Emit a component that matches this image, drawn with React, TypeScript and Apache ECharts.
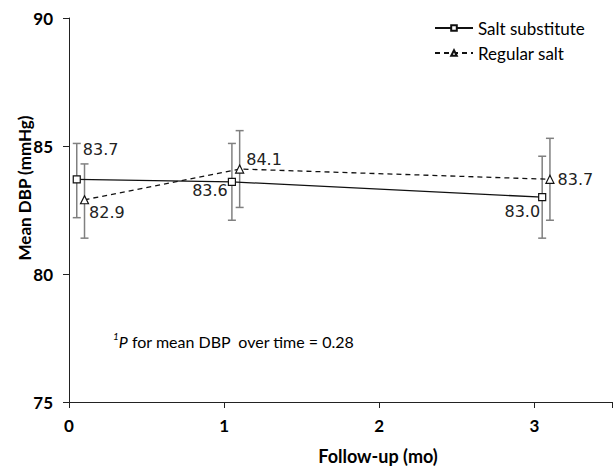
import React, { useEffect, useRef } from "react";
import * as echarts from "echarts";

const xTicks = [0, 1, 2, 3];
const ssX = [0.05, 1.05, 3.05];
const ssMean = [83.7, 83.6, 83.0];
const ssLow = [82.2, 82.1, 81.4];
const ssHigh = [85.1, 85.1, 84.6];
const rsX = [0.1, 1.1, 3.1];
const rsMean = [82.9, 84.1, 83.7];
const rsLow = [81.4, 82.6, 82.1];
const rsHigh = [84.3, 85.6, 85.3];

const ssLabelPos = [
  { position: "right", distance: 2, offset: [0, -30] },
  { position: "left", distance: 0, offset: [0, 9] },
  { position: "left", distance: -2, offset: [0, 14] },
];
const rsLabelPos = [
  { position: "right", distance: 0, offset: [0, 13] },
  { position: "right", distance: 2, offset: [0, -10] },
  { position: "right", distance: 3, offset: [0, 0] },
];

const calibri = "Lato, 'Open Sans', sans-serif";

export default function App() {
  const ref = useRef<HTMLDivElement>(null);
  useEffect(() => {
    document.body.style.margin = "0";
    const chart = echarts.init(ref.current!, undefined, { renderer: "svg" });
    const labelStyle = {
      show: true,
      fontFamily: "'DejaVu Sans', sans-serif",
      fontSize: 16,
      color: "#222",
      formatter: (p: any) => Number(p.value[1]).toFixed(1),
    };
    const errData = [
      ...ssX.map((x, i) => [x, ssLow[i], ssHigh[i]]),
      ...rsX.map((x, i) => [x, rsLow[i], rsHigh[i]]),
    ];
    chart.setOption({
      animation: false,
      grid: { left: 69, top: 18, bottom: 65, right: -7 },
      xAxis: {
        type: "value",
        min: 0,
        max: 3.5,
        interval: 1,
        axisLine: { lineStyle: { color: "#222", width: 1 } },
        axisTick: { show: true, length: 6, lineStyle: { color: "#222" } },
        axisLabel: {
          fontFamily: calibri,
          fontWeight: "bold",
          fontSize: 17,
          color: "#000",
          margin: 15,
          formatter: (v: number) => (xTicks.includes(v) ? String(v) : ""),
        },
        splitLine: { show: false },
      },
      yAxis: {
        type: "value",
        min: 75,
        max: 90,
        interval: 5,
        axisLine: { show: true, lineStyle: { color: "#222", width: 1 } },
        axisTick: { show: true, length: 6, lineStyle: { color: "#222" } },
        axisLabel: { fontFamily: calibri, fontWeight: "bold", fontSize: 17, color: "#000", margin: 16 },
        splitLine: { show: false },
      },
      legend: {
        data: ["Salt substitute", "Regular salt"],
        orient: "vertical",
        left: 434,
        top: 18,
        padding: 0,
        itemWidth: 38,
        itemHeight: 7,
        itemGap: 5,
        textStyle: { fontFamily: calibri, fontSize: 17, color: "#000", lineHeight: 20 },
      },
      graphic: [
        {
          type: "text",
          left: 113,
          top: 331,
          style: {
            text: "{sup|1}{it|P} for mean DBP  over time = 0.28",
            rich: {
              sup: { fontSize: 10, fontStyle: "italic", fontFamily: calibri, fill: "#000", verticalAlign: "top", lineHeight: 10 },
              it: { fontSize: 16, fontStyle: "italic", fontFamily: calibri, fill: "#000", lineHeight: 20 },
            },
            fontSize: 16,
            fontFamily: calibri,
            fill: "#000",
            lineHeight: 20,
          },
        },
        {
          type: "text",
          x: 24,
          y: 188,
          rotation: Math.PI / 2,
          style: {
            text: "Mean DBP (mmHg)",
            fontFamily: calibri,
            fontWeight: "bold",
            fontSize: 17,
            fill: "#000",
            align: "center",
            verticalAlign: "middle",
          },
        },
        {
          type: "text",
          x: 378,
          y: 456,
          style: {
            text: "Follow-up (mo)",
            fontFamily: calibri,
            fontWeight: "bold",
            fontSize: 18,
            fill: "#000",
            align: "center",
            verticalAlign: "middle",
          },
        },
      ],
      series: [
        {
          type: "custom",
          name: "err",
          z: 1,
          data: errData,
          renderItem: (params: any, api: any) => {
            const x = api.value(0);
            const lo = api.coord([x, api.value(1)]);
            const hi = api.coord([x, api.value(2)]);
            const w = 4;
            const st = { stroke: "#808080", lineWidth: 1.5 };
            return {
              type: "group",
              children: [
                { type: "line", shape: { x1: lo[0], y1: lo[1], x2: hi[0], y2: hi[1] }, style: st },
                { type: "line", shape: { x1: lo[0] - w, y1: lo[1], x2: lo[0] + w, y2: lo[1] }, style: st },
                { type: "line", shape: { x1: hi[0] - w, y1: hi[1], x2: hi[0] + w, y2: hi[1] }, style: st },
              ],
            };
          },
        },
        {
          type: "line",
          name: "Salt substitute",
          z: 3,
          data: ssX.map((x, i) => ({ value: [x, ssMean[i]], label: { ...labelStyle, ...ssLabelPos[i] } })),
          symbol: "rect",
          symbolSize: 7,
          lineStyle: { color: "#111", width: 1.3, type: "solid" },
          itemStyle: { color: "#fff", borderColor: "#111", borderWidth: 1.2 },
          label: labelStyle,
        },
        {
          type: "line",
          name: "Regular salt",
          z: 3,
          data: rsX.map((x, i) => ({ value: [x, rsMean[i]], label: { ...labelStyle, ...rsLabelPos[i] } })),
          symbol: "triangle",
          symbolSize: 8,
          lineStyle: { color: "#111", width: 1.3, type: [5, 4] },
          itemStyle: { color: "#fff", borderColor: "#111", borderWidth: 1.2 },
          label: labelStyle,
        },
      ],
    });
    return () => chart.dispose();
  }, []);
  return <div ref={ref} style={{ width: 615, height: 467 }} />;
}
